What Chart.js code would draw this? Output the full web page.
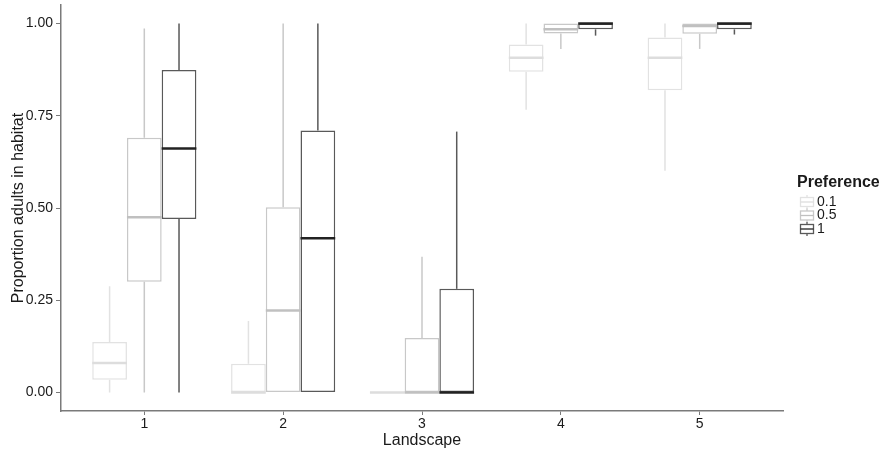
<!DOCTYPE html>
<html>
<head>
<meta charset="utf-8">
<script src="https://cdn.jsdelivr.net/npm/chart.js@4.4.1/dist/chart.umd.min.js"></script>
<style>
  html, body { margin: 0; padding: 0; background: #fff; }
  #wrap { width: 881px; height: 452px; }
</style>
</head>
<body>
<div id="wrap"><canvas id="chart"></canvas></div>
<script>
const landscapes = [1, 2, 3, 4, 5];
const preferences = ['0.1', '0.5', '1'];
// each row: [lower whisker, q1, median, q3, upper whisker], one row per landscape
const pref01 = [
  [0, 0.035, 0.08, 0.137, 0.288],
  [0, 0, 0, 0.078, 0.194],
  [0, 0, 0, 0, 0],
  [0.766, 0.869, 0.907, 0.943, 1],
  [0.601, 0.819, 0.907, 0.962, 1]
];
const pref05 = [
  [0, 0.30, 0.475, 0.69, 0.986],
  [0, 0, 0.222, 0.502, 1],
  [0, 0, 0, 0.148, 0.368],
  [0.931, 0.973, 0.984, 1, 1],
  [0.931, 0.972, 0.993, 1, 1]
];
const pref1 = [
  [0, 0.47, 0.661, 0.874, 1],
  [0, 0, 0.418, 0.71, 1],
  [0, 0, 0, 0.281, 0.707],
  [0.967, 0.984, 1, 1, 1],
  [0.97, 0.984, 1, 1, 1]
];
const yTicks = [0, 0.25, 0.5, 0.75, 1];

const lineColors = ['#e2e2e2', '#c8c8c8', '#595959'];
const medianColors = ['#dddddd', '#c0c0c0', '#222222'];
const allStats = [pref01, pref05, pref1];
const fontFamily = '"Liberation Sans", Arial, sans-serif';
const axisColor = '#7a7a7a';
const textColor = '#1a1a1a';

const datasets = allStats.map((stats, k) => ({
  label: preferences[k],
  data: stats.map((s, i) => ({ x: landscapes[i], y: [s[1], s[3]] })),
  backgroundColor: '#ffffff',
  borderColor: lineColors[k],
  borderWidth: 1.5,
  borderSkipped: false,
  categoryPercentage: 0.75,
  barPercentage: 1
}));

// whiskers + medians, placed on the bars chart.js already laid out
const boxExtras = {
  id: 'boxExtras',
  afterDatasetsDraw(chart) {
    const ctx = chart.ctx;
    const y = chart.scales.y;
    ctx.save();
    allStats.forEach((stats, k) => {
      const meta = chart.getDatasetMeta(k);
      meta.data.forEach((bar, i) => {
        const s = stats[i];
        const half = bar.width / 2;
        ctx.strokeStyle = lineColors[k];
        ctx.lineWidth = 1.5;
        ctx.beginPath();
        if (s[4] > s[3]) { ctx.moveTo(bar.x, y.getPixelForValue(s[3])); ctx.lineTo(bar.x, y.getPixelForValue(s[4])); }
        if (s[0] < s[1]) { ctx.moveTo(bar.x, y.getPixelForValue(s[1])); ctx.lineTo(bar.x, y.getPixelForValue(s[0])); }
        ctx.stroke();
        ctx.strokeStyle = medianColors[k];
        ctx.lineWidth = 2.5;
        ctx.beginPath();
        const my = y.getPixelForValue(s[2]);
        ctx.moveTo(bar.x - half, my);
        ctx.lineTo(bar.x + half, my);
        ctx.stroke();
      });
    });
    ctx.restore();
  }
};

const boxLegend = {
  id: 'boxLegend',
  afterDraw(chart) {
    const ctx = chart.ctx;
    const x0 = chart.chartArea.right + 14;
    ctx.save();
    ctx.fillStyle = textColor;
    ctx.textBaseline = 'middle';
    ctx.font = 'bold 16px ' + fontFamily;
    ctx.fillText('Preference', x0, 183);
    ctx.font = '14px ' + fontFamily;
    preferences.forEach((p, k) => {
      const cy = 202 + k * 13.5;
      const cx = x0 + 10;
      ctx.strokeStyle = lineColors[k];
      ctx.lineWidth = 1.3;
      ctx.beginPath();
      ctx.moveTo(cx, cy - 7); ctx.lineTo(cx, cy + 7);
      ctx.stroke();
      ctx.fillStyle = '#fff';
      ctx.fillRect(cx - 6.5, cy - 4.5, 13, 9);
      ctx.strokeRect(cx - 6.5, cy - 4.5, 13, 9);
      ctx.strokeStyle = medianColors[k];
      ctx.beginPath();
      ctx.moveTo(cx - 6.5, cy); ctx.lineTo(cx + 6.5, cy);
      ctx.stroke();
      ctx.fillStyle = textColor;
      ctx.fillText(p, cx + 10, cy);
    });
    ctx.restore();
  }
};

new Chart(document.getElementById('chart'), {
  type: 'bar',
  data: { datasets },
  plugins: [boxExtras, boxLegend],
  options: {
    responsive: true,
    maintainAspectRatio: false,
    animation: false,
    devicePixelRatio: 1,
    layout: { padding: { left: 0, right: 98, top: 5, bottom: 0 } },
    plugins: { legend: { display: false }, tooltip: { enabled: false } },
    scales: {
      x: {
        type: 'linear',
        min: 0.4,
        max: 5.6,
        offset: false,
        afterBuildTicks: s => { s.ticks = landscapes.map(v => ({ value: v })); },
        afterFit: s => { s.height = 41; s.paddingLeft = 0; s.paddingRight = 0; },
        ticks: { callback: v => String(v), color: textColor, font: { family: fontFamily, size: 14 }, padding: 1, maxRotation: 0 },
        grid: { offset: false, drawOnChartArea: false, tickLength: 4, color: axisColor, lineWidth: 1 },
        border: { display: true, color: axisColor, width: 1.5 },
        title: { display: true, text: 'Landscape', color: textColor, font: { family: fontFamily, size: 16 }, padding: { top: 0, bottom: 2 } }
      },
      y: {
        min: -0.05,
        max: 1.05,
        afterBuildTicks: s => { s.ticks = yTicks.map(v => ({ value: v })); },
        afterFit: s => { s.width = 61; s.paddingTop = 0; s.paddingBottom = 0; },
        ticks: { callback: v => Number(v).toFixed(2), color: textColor, font: { family: fontFamily, size: 14 }, padding: 3 },
        grid: { drawOnChartArea: false, tickLength: 5, color: axisColor, lineWidth: 1 },
        border: { display: true, color: axisColor, width: 1.5 },
        title: { display: true, text: 'Proportion adults in habitat', color: textColor, font: { family: fontFamily, size: 16 }, padding: { top: 9, bottom: 0 } }
      }
    }
  }
});
</script>
</body>
</html>
